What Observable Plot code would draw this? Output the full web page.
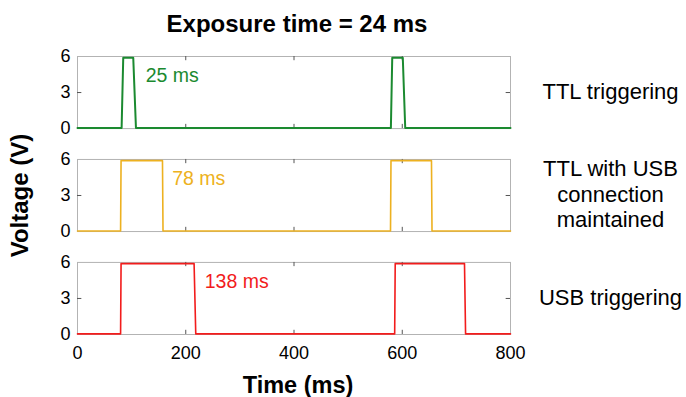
<!DOCTYPE html>
<html>
<head>
<meta charset="utf-8">
<script src="https://cdn.jsdelivr.net/npm/d3@7"></script>
<script src="https://cdn.jsdelivr.net/npm/@observablehq/plot@0.6"></script>
<style>
  body { margin: 0; background: white; font-family: "Liberation Sans", Arial, sans-serif; }
  #title { height: 40px; overflow: visible; width: 594px; text-align: center; }
  #title div { line-height: 48px; font-size: 24px; font-weight: bold; color: #000; white-space: nowrap; }
</style>
</head>
<body>
<div id="title"><div>Exposure time = 24 ms</div></div>
<div id="chart"></div>
<script>
// ---- data ----
const panels = ["TTL triggering", "TTL with USB\nconnection\nmaintained", "USB triggering"];
const colors = ["#1b8a30", "#edb120", "#f21c1c"];

const ttlTime = [0, 81.5, 84.5, 103, 108, 579, 581.5, 601, 605.5, 800];
const ttlVolt = [0.05, 0.05, 5.9, 5.9, 0.05, 0.05, 5.9, 5.9, 0.05, 0.05];

const ttlUsbTime = [0, 79.6, 80.5, 157, 158, 578.3, 579.2, 654, 655, 800];
const ttlUsbVolt = [0.05, 0.05, 5.9, 5.9, 0.05, 0.05, 5.9, 5.9, 0.05, 0.05];

const usbTime = [0, 79.6, 80.5, 215.4, 218.5, 586, 587, 715, 717, 800];
const usbVolt = [0.05, 0.05, 5.9, 5.9, 0.05, 0.05, 5.9, 5.9, 0.05, 0.05];

const annotX = [126, 175, 235];
const annotY = [4.4, 4.4, 4.4];
const annotText = ["25 ms", "78 ms", "138 ms"];

const xTicks = [0, 200, 400, 600, 800];
const xInnerTicks = [200, 400, 600];
const yTicks = [0, 3, 6];

// ---- build tables ----
const series = [[ttlTime, ttlVolt], [ttlUsbTime, ttlUsbVolt], [usbTime, usbVolt]];
const lineMarks = series.map(([ts, vs], i) =>
  Plot.line(ts.map((t, j) => ({panel: panels[i], t, v: vs[j]})),
    {x: "t", y: "v", fy: "panel", stroke: colors[i], strokeWidth: i === 0 ? 2 : 1.6, curve: "linear"})
);
const annots = annotText.map((text, i) => ({panel: panels[i], x: annotX[i], y: annotY[i], text, color: colors[i]}));
const sideLabels = panels.map(p => ({panel: p}));

const chart = Plot.plot({
  width: 686,
  height: 357,
  marginTop: 16,
  marginBottom: 63,
  marginLeft: 77,
  marginRight: 176,
  style: {fontFamily: "Liberation Sans, Arial, sans-serif", background: "white", color: "#000"},
  x: {domain: [0, 800]},
  y: {domain: [0, 6]},
  fy: {domain: panels, paddingInner: 0.3, paddingOuter: 0, axis: null, round: false},
  marks: [
    Plot.frame({stroke: "#b3b3b3", strokeWidth: 1}),
    Plot.ruleX(xInnerTicks, {x: d => d, y1: 0, y2: 0.35, stroke: "#555"}),
    Plot.ruleX(xInnerTicks, {x: d => d, y1: 6, y2: 5.65, stroke: "#555"}),
    Plot.ruleY([3], {y: d => d, x1: 0, x2: 8, stroke: "#555"}),
    Plot.ruleY([3], {y: d => d, x1: 792, x2: 800, stroke: "#555"}),
    Plot.axisY({ticks: yTicks, tickFormat: d3.format("d"), tickSize: 0, tickPadding: 7, fontSize: 18, label: null}),
    Plot.axisX({ticks: xTicks, tickFormat: d3.format("d"), tickSize: 0, tickPadding: 12, fontSize: 18, label: null}),
    ...lineMarks,
    Plot.text(annots, {x: "x", y: "y", fy: "panel", text: "text", fill: "color", fontSize: 19.5, textAnchor: "start", lineAnchor: "middle"}),
    Plot.text(sideLabels, {fy: "panel", text: "panel", frameAnchor: "right", dx: 100, dy: -2, textAnchor: "middle", lineAnchor: "middle", fontSize: 22, lineHeight: 1.16, fill: "#000"}),
    Plot.text([{panel: panels[1]}], {fy: "panel", y: () => 3, text: () => "Voltage (V)", frameAnchor: "left", rotate: -90, dx: -57, textAnchor: "middle", lineAnchor: "middle", fontSize: 24, fontWeight: "bold", fill: "#000"}),
    Plot.text([{panel: panels[2]}], {fy: "panel", text: () => "Time (ms)", frameAnchor: "bottom", dy: 51, dx: 4, lineAnchor: "middle", fontSize: 23.5, fontWeight: "bold", fill: "#000"})
  ]
});
document.getElementById("chart").appendChild(chart);
</script>
</body>
</html>
